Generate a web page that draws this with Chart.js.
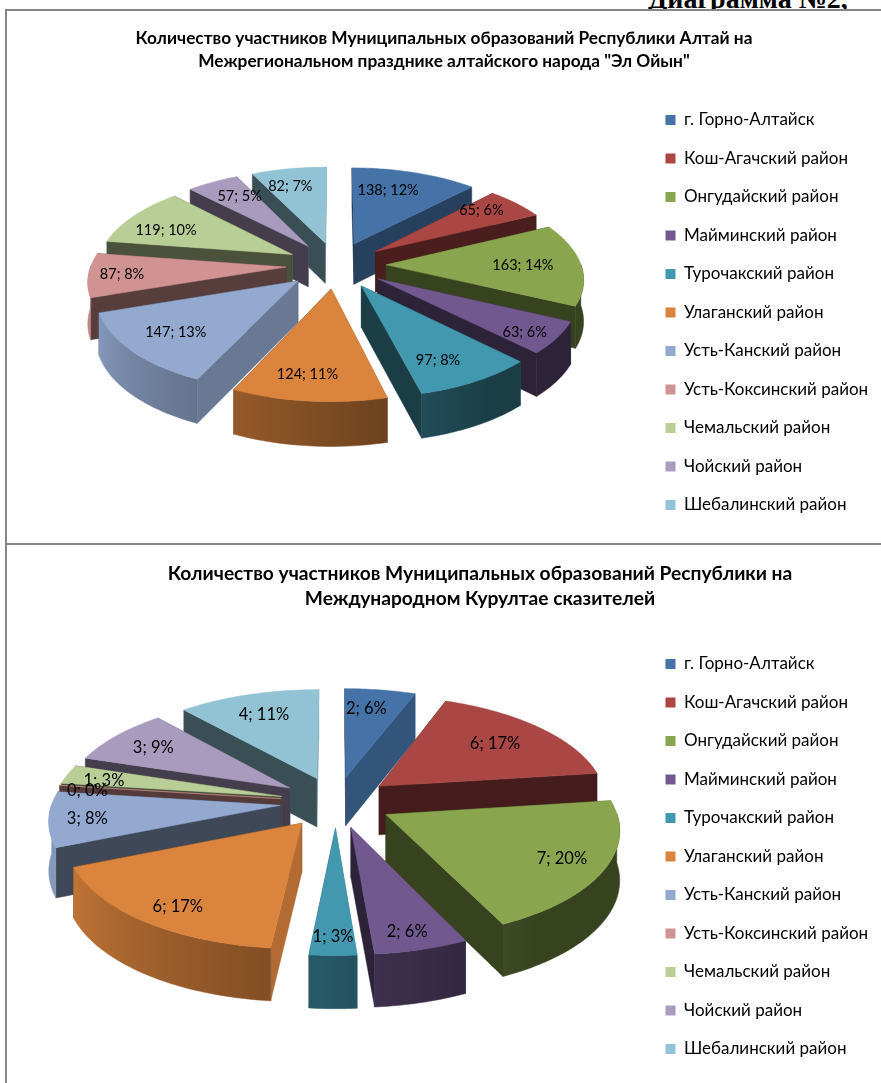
<!DOCTYPE html>
<html lang="ru"><head><meta charset="utf-8">
<script src="https://cdn.jsdelivr.net/npm/chart.js@4/dist/chart.umd.min.js"></script>
<style>
html,body{margin:0;padding:0;background:#fff;width:881px;height:1083px;overflow:hidden}
canvas{position:absolute;left:8px}
.line{position:absolute;background:#868686}
#head{position:absolute;left:0;top:0;width:881px;height:9px;overflow:hidden}
#head span{position:absolute;left:648px;top:-17px;font:bold 28px "Liberation Serif";color:#000;white-space:nowrap}
</style></head><body>
<div id="head"><span>Диаграмма №2,</span></div>
<div class="line" style="left:5px;top:9px;width:876px;height:2px"></div>
<div class="line" style="left:5px;top:9px;width:2px;height:1074px"></div>
<div class="line" style="left:5px;top:543px;width:876px;height:2px"></div>
<canvas id="c1" width="873" height="543" style="top:0"></canvas>
<canvas id="c2" width="873" height="538" style="top:545px"></canvas>
<script>
const categories = ["г. Горно-Алтайск","Кош-Агачский район","Онгудайский район","Майминский район","Турочакский район","Улаганский район","Усть-Канский район","Усть-Коксинский район","Чемальский район","Чойский район","Шебалинский район"];
const festivalValues = [138,65,163,63,97,124,147,87,119,57,82];
const kurultaiValues = [2,6,7,2,1,6,2.9,0,1,3,4];
const festivalTitle = ['Количество участников Муниципальных образований Республики Алтай на','Межрегиональном празднике алтайского народа "Эл Ойын"'];
const kurultaiTitle = ['Количество участников Муниципальных образований Республики на','Международном Курултае сказителей'];
const palette = ["#4572A7","#AA4643","#89A54E","#71588F","#4198AF","#DB843D","#93A9CF","#D19392","#B9CD96","#A99BBD","#92C3D4"];

const DEG = Math.PI/180;
function shade(hex,f){const n=parseInt(hex.slice(1),16);return `rgb(${Math.round((n>>16)*f)},${Math.round(((n>>8)&255)*f)},${Math.round((n&255)*f)})`;}
function clamp(x,a,b){return Math.max(a,Math.min(b,x));}

function pie3d(view){return {
  id:'pie3d',
  afterLayout(chart){
    chart.legend.left=view.legendLeft; chart.legend.top=view.legendTop;
  },
  beforeDraw(chart){
    const t=chart.titleBlock, half=Math.min(view.titleX,chart.width-view.titleX);
    t.left=view.titleX-half; t.right=view.titleX+half;
  },
  beforeDatasetsDraw(chart){
    const ctx=chart.ctx, arcs=chart.getDatasetMeta(0).data, vals=chart.data.datasets[0].data;
    const total=vals.reduce((a,b)=>a+b,0);
    const R=arcs[0].outerRadius, {cx,cy,ratio,k,H}=view;
    const proj=(u,v,z)=>{const s=1/(1-k*v/R);return [cx+u*s,cy+v*ratio*s+z*Math.sqrt(s)];};
    const poly=(pts,fill)=>{ctx.beginPath();pts.forEach((p,i)=>i?ctx.lineTo(p[0],p[1]):ctx.moveTo(p[0],p[1]));ctx.closePath();ctx.fillStyle=fill;ctx.fill();ctx.strokeStyle=fill;ctx.lineWidth=.5;ctx.stroke();};
    const slices=arcs.map((a,i)=>{
      const a0=a.startAngle/DEG+90, a1=a.endAngle/DEG+90, mid=(a0+a1)/2, d=a.options.offset;
      return {i,a0,a1,mid,ox:d*Math.sin(mid*DEG),ov:-d*Math.cos(mid*DEG),col:palette[i]};
    });
    slices.slice().sort((p,q)=>(-Math.cos(p.mid*DEG))-(-Math.cos(q.mid*DEG))).forEach(s=>{
      const rim=(t)=>[s.ox+R*Math.sin(t*DEG),s.ov-R*Math.cos(t*DEG)];
      const edge=(t,phi)=>{const r=rim(t);return {phi,pts:[proj(s.ox,s.ov,0),proj(r[0],r[1],0),proj(r[0],r[1],H),proj(s.ox,s.ov,H)]};};
      [edge(s.a0,s.a0-90),edge(s.a1,s.a1+90)]
        .sort((x,y)=>(-Math.cos(x.phi*DEG))-(-Math.cos(y.phi*DEG)))
        .forEach(w=>{const f=.4+.42*Math.pow(Math.max(0,Math.sin(w.phi*DEG)),3);poly(w.pts,shade(s.col,f));});
      const n=Math.max(1,Math.ceil(s.a1-s.a0));
      const vis=[];
      for(let j=0;j<=n;j++){const t=s.a0+(s.a1-s.a0)*j/n; if(Math.cos(t*DEG)<=0.02) vis.push(t);}
      if(vis.length>1){
        const upper=vis.map(t=>{const r=rim(t);return proj(r[0],r[1],0);});
        const lower=vis.map(t=>{const r=rim(t);return proj(r[0],r[1],H);}).reverse();
        const x0=Math.min(upper[0][0],upper[upper.length-1][0]),x1=Math.max(upper[0][0],upper[upper.length-1][0]);
        const g=ctx.createLinearGradient(x0,0,x1||x0+1,0);
        vis.forEach((t,j)=>{const x=upper[j][0];g.addColorStop(clamp((x-x0)/Math.max(1,x1-x0),0,1),shade(s.col,clamp(.5+(t-166)*.0047,.4,.9)));});
        poly(upper.concat(lower),g);
      }
      const top=[proj(s.ox,s.ov,0)];
      for(let j=0;j<=n;j++){const r=rim(s.a0+(s.a1-s.a0)*j/n);top.push(proj(r[0],r[1],0));}
      poly(top,s.col);
    });
    ctx.fillStyle='#000';ctx.font=view.labelFont;ctx.textAlign='center';ctx.textBaseline='middle';
    slices.forEach(s=>{
      const f=view.labelFrac*R,p=proj(s.ox+f*Math.sin(s.mid*DEG),s.ov-f*Math.cos(s.mid*DEG),0);
      const nudge=view.nudges[s.i];
      ctx.fillText(`${Math.round(vals[s.i])}; ${Math.round(vals[s.i]/total*100)}%`,p[0]+nudge[0],p[1]+nudge[1]);
    });
    return false;
  }
};}

function build(id,values,title,view){
  new Chart(document.getElementById(id),{
    type:'pie',
    data:{labels:categories,datasets:[{data:values,backgroundColor:palette,borderWidth:0,offset:view.explode,radius:view.R}]},
    options:{
      responsive:false,animation:false,devicePixelRatio:1,
      layout:{padding:{left:0,right:8,top:view.padTop,bottom:0}},
      plugins:{
        tooltip:{enabled:false},
        title:{display:true,text:title,color:'#000',font:{family:'Lato',weight:'bold',size:view.titleSize,lineHeight:view.titleLH},padding:{top:0,bottom:10}},
        legend:{position:'right',align:'start',labels:{color:'#000',boxWidth:10,boxHeight:10,padding:21.5,font:{family:'Lato',size:17}}}
      }
    },
    plugins:[pie3d(view)]
  });
}

build('c1',festivalValues,festivalTitle,{cx:328,cy:265,R:195,explode:50,ratio:.467,k:.13,H:41,labelFrac:.6,labelFont:'14.5px Lato',
  titleX:436,titleSize:17.3,titleLH:1.33,padTop:27,legendLeft:636,legendTop:90,
  nudges:[[-4,-9],[19,-11],[20,1],[43,19],[11,20],[-11,22],[-26,11],[-46,2],[-29,-1],[-9,-10],[-12,-10]]});
build('c2',kurultaiValues,kurultaiTitle,{cx:328,cy:257,R:228,explode:56,ratio:.46,k:.12,H:49,labelFrac:.6,labelFont:'16.5px Lato',
  titleX:472,titleSize:19.2,titleLH:1.3,padTop:16,legendLeft:636,legendTop:89,
  nudges:[[-1,-14],[17,-6],[48,12],[16,35],[-1,36],[-33,27],[-55,5],[-60,0],[-48,-2],[-30,-8],[-10,-12]]});
</script>
</body></html>
